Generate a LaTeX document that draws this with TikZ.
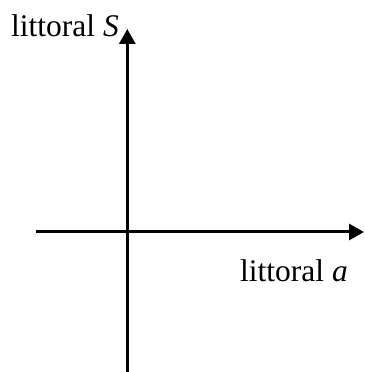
\documentclass[tikz,border=0pt]{standalone}
\usepackage{fontspec}
\setmainfont{Liberation Serif}
\usetikzlibrary{arrows.meta}
\tikzset{
    axis/.style={line width=3pt, -{Triangle[length=15pt,width=16pt]}},
    axislabel/.style={inner sep=0pt, font=\fontsize{31.5}{36}\selectfont}
}
\begin{document}
\begin{tikzpicture}[x=1pt,y=1pt]
    \useasboundingbox (0,0) rectangle (364,372);
    % axes
    \coordinate (ybot) at (127.3,0);
    \coordinate (ytop) at (127.3,343);
    \coordinate (xleft) at (36,140);
    \coordinate (xright) at (364,140);
    \draw[axis] (ybot) -- (ytop);
    \draw[axis] (xleft) -- (xright);
    % labels
    \node[axislabel, anchor=base east] (labS) at (119,335) {littoral \textit{S}};
    \node[axislabel, anchor=base west] (laba) at (240,90) {littoral \textit{a}};
\end{tikzpicture}
\end{document}
